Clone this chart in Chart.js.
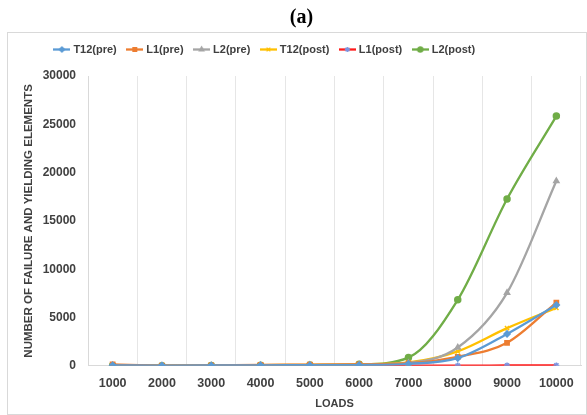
<!DOCTYPE html>
<html>
<head>
<meta charset="utf-8">
<script src="https://cdn.jsdelivr.net/npm/chart.js@4.4.1/dist/chart.umd.min.js"></script>
<style>
  html, body { margin: 0; padding: 0; background: #fff; }
  #wrap { width: 587px; height: 415px; position: relative; }
</style>
</head>
<body>
<div id="wrap"><canvas id="c" width="587" height="415"></canvas></div>
<script>
// Load steps on the x axis
const loads = ['1000', '2000', '3000', '4000', '5000', '6000', '7000', '8000', '9000', '10000'];

// Number of failure and yielding elements per level
const t12Pre  = [50, 20, 30, 50, 60, 80, 200, 800, 3300, 6300];
const l1Pre   = [150, 20, 50, 100, 120, 150, 250, 930, 2380, 6550];
const l2Pre   = [30, 10, 30, 50, 80, 120, 300, 1900, 7550, 19130];
const t12Post = [60, 30, 50, 80, 100, 150, 350, 1500, 3900, 6000];
const l1Post  = [0, 0, 0, 0, 0, 0, 20, 20, 30, 40];
const l2Post  = [30, 10, 40, 60, 80, 150, 850, 6830, 17270, 25850];

const yTicks = [0, 5000, 10000, 15000, 20000, 25000, 30000];

function series(label, data, color, marker, markerColor) {
  return {
    label, data,
    borderColor: color,
    backgroundColor: markerColor || color,
    pointBorderColor: markerColor || color,
    pointBackgroundColor: markerColor || color,
    pointStyle: marker,
    pointRadius: 3,
    pointBorderWidth: 1.5,
    borderWidth: 2.3,
    cubicInterpolationMode: 'monotone',
    fill: false
  };
}

// Small "line with marker" swatch for each legend entry
function swatch(ds) {
  const w = 17, h = 9;
  const cv = document.createElement('canvas');
  cv.width = w; cv.height = h;
  const ctx = cv.getContext('2d');
  ctx.strokeStyle = ds.borderColor;
  ctx.lineWidth = 2.3;
  ctx.beginPath();
  ctx.moveTo(0, h / 2);
  ctx.lineTo(w, h / 2);
  ctx.stroke();
  ctx.fillStyle = ds.pointBackgroundColor;
  ctx.strokeStyle = ds.pointBorderColor;
  ctx.lineWidth = 1.3;
  Chart.helpers.drawPoint(ctx, { pointStyle: ds.pointStyle, radius: 2.6, rotation: 0, borderWidth: 1.3 }, w / 2, h / 2);
  return cv;
}

// Outer frame around the chart body
const framePlugin = {
  id: 'frame',
  beforeDraw(chart) {
    const ctx = chart.ctx;
    ctx.save();
    ctx.fillStyle = '#fff';
    ctx.fillRect(0, 0, chart.width, chart.height);
    ctx.strokeStyle = '#d9d9d9';
    ctx.lineWidth = 1;
    ctx.strokeRect(7.5, 32.5, chart.width - 8, chart.height - 33);
    ctx.restore();
  }
};

// Extra room under the legend and a leftward shift of the legend row
const legendTweak = {
  id: 'legendTweak',
  afterInit(chart) {
    const lg = chart.legend;
    const fit = lg.fit;
    lg.fit = function () { fit.call(this); this.height += 11; };
  },
  afterLayout(chart) {
    const lg = chart.legend;
    lg.left -= 36;
    lg.right -= 36;
  }
};

const font = "'Liberation Sans', Arial, sans-serif";

new Chart(document.getElementById('c'), {
  type: 'line',
  data: {
    labels: loads,
    datasets: [
      series('T12(pre)', t12Pre, '#5b9bd5', 'rectRot'),
      series('L1(pre)', l1Pre, '#ed7d31', 'rect'),
      series('L2(pre)', l2Pre, '#a5a5a5', 'triangle'),
      series('T12(post)', t12Post, '#ffc000', 'crossRot'),
      series('L1(post)', l1Post, '#ff1a1a', 'star', '#7b94e0'),
      series('L2(post)', l2Post, '#70ad47', 'circle')
    ]
  },
  options: {
    responsive: false,
    animation: false,
    layout: { padding: { left: 22, right: 6, top: 0, bottom: 4 } },
    plugins: {
      title: {
        display: true,
        text: '(a)',
        color: '#000',
        font: { family: "'Liberation Serif', 'Times New Roman', serif", size: 20, weight: 'bold' },
        padding: { top: 6, bottom: 2 }
      },
      legend: {
        position: 'top',
        labels: {
          color: '#404040',
          font: { family: font, size: 11, weight: 'bold' },
          usePointStyle: true,
          pointStyleWidth: 12,
          padding: 12,
          generateLabels(chart) {
            return chart.data.datasets.map((ds, i) => ({
              text: ds.label,
              pointStyle: swatch(ds),
              fillStyle: ds.borderColor,
              strokeStyle: ds.borderColor,
              lineWidth: 0,
              fontColor: '#404040',
              hidden: false,
              datasetIndex: i
            }));
          }
        }
      },
      tooltip: { enabled: false }
    },
    scales: {
      x: {
        offset: true,
        grid: { color: '#e6e6e6', offset: true, drawTicks: false },
        border: { color: '#d9d9d9' },
        ticks: { color: '#404040', font: { family: font, size: 12.5, weight: 'bold' }, padding: 10 },
        title: {
          display: true, text: 'LOADS', color: '#404040',
          font: { family: font, size: 11, weight: 'bold' }, padding: { top: -3, bottom: 0 }
        }
      },
      y: {
        min: 0, max: 30000,
        afterBuildTicks(axis) { axis.ticks = yTicks.map(v => ({ value: v })); },
        afterFit(axis) { axis.width = 66; },
        grid: { display: false, drawTicks: false },
        border: { color: '#d9d9d9' },
        ticks: {
          color: '#404040', font: { family: font, size: 12, weight: 'bold' }, padding: 12,
          callback: v => String(v)
        },
        title: {
          display: true, text: 'NUMBER OF FAILURE AND YIELDING ELEMENTS', color: '#404040',
          font: { family: font, size: 11.5, weight: 'bold' }, padding: { top: 0, bottom: 4 }
        }
      }
    }
  },
  plugins: [framePlugin, legendTweak]
});
</script>
</body>
</html>
